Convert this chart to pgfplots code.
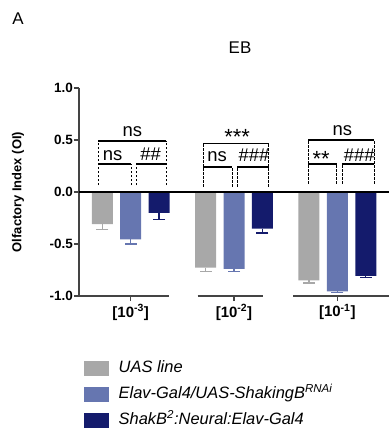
\documentclass[border=0pt]{standalone}
\usepackage{fontspec}
\setmainfont{Liberation Sans}
\usepackage{pgfplots}
\pgfplotsset{compat=1.18}
\definecolor{cgray}{HTML}{A8A8A8}
\definecolor{cblue}{HTML}{6676B0}
\definecolor{cnavy}{HTML}{141B6C}
\definecolor{axgray}{HTML}{444444}
\newcommand{\brk}[7]{%
 \draw[black, line width=0.9bp, dash pattern=on 2.5bp off 1.5bp] (axis cs:#1,#7) -- (axis cs:#1,#5);
 \draw[black, line width=0.9bp, dash pattern=on 2.5bp off 1.5bp] (axis cs:#4,#7) -- (axis cs:#4,#5);
 \draw[black, line width=0.9bp, dash pattern=on 2.5bp off 1.5bp] (axis cs:#2,#7) -- (axis cs:#2,#6);
 \draw[black, line width=0.9bp, dash pattern=on 2.5bp off 1.5bp] (axis cs:#3,#7) -- (axis cs:#3,#6);
 \draw[black, line width=1.2bp] (axis cs:#1,#5) -- (axis cs:#4,#5);
 \draw[black, line width=1.2bp] (axis cs:#1,#6) -- (axis cs:#2,#6);
 \draw[black, line width=1.2bp] (axis cs:#3,#6) -- (axis cs:#4,#6);
}
\begin{document}
\begin{tikzpicture}
\path[use as bounding box] (0,0) rectangle (389bp,430bp);
\node[font=\fontsize{17}{20}\selectfont] at (18bp,411bp) {A};
\node[font=\fontsize{17}{20}\selectfont] at (240bp,382bp) {EB};
\begin{axis}[at={(79bp,134bp)}, anchor=south west, scale only axis,
 width=310bp, height=208bp,
 xmin=0.5, xmax=3.5, ymin=-1, ymax=1, clip=false,
 axis x line*=bottom, axis y line*=left,
 x axis line style={draw=none},
 y axis line style={draw=axgray, line width=1.3bp, -},
 xtick={1,2,3},
 xticklabels={[10\textsuperscript{-3}],[10\textsuperscript{-2}],[10\textsuperscript{-1}]},
 ytick={-1,-0.5,0,0.5,1}, yticklabels={-1.0,-0.5,0.0,0.5,1.0},
 tick align=outside, major tick length=5bp,
 tick style={draw=axgray, line width=1.3bp},
 yticklabel style={font=\bfseries\fontsize{13.5}{16}\selectfont, inner sep=1bp},
 xticklabel style={font=\bfseries\fontsize{15}{17}\selectfont},
 ylabel={Olfactory Index (OI)},
 ylabel style={font=\bfseries\fontsize{13}{15}\selectfont, at={(axis description cs:-0.197,0.5)}, anchor=center},
 legend style={at={(axis description cs:0.005,-0.30)}, anchor=north west, draw=none, fill=none,
   font=\itshape\fontsize{16.5}{19}\selectfont, row sep=10bp,
   /tikz/every odd column/.append style={column sep=10bp},
   nodes={inner sep=0pt, text height=12bp, text depth=4bp}},
 legend cell align=left,
]
\addplot[ybar, bar width=21bp, bar shift=0bp, fill=cgray, draw=none,
  legend image code/.code={\fill[cgray] (0bp,-7.5bp) rectangle (25bp,7.5bp);},
  error bars/.cd, y dir=minus, y explicit,
  error bar style={cgray, line width=1.3bp},
  error mark options={rotate=90, mark size=6bp, cgray, line width=1.3bp}]
  table[x=x, y=y, y error=e] {
x y e
0.725 -0.310 0.050
1.725 -0.727 0.036
2.725 -0.849 0.026
};
\addlegendentry{UAS line}
\addplot[ybar, bar width=21bp, bar shift=0bp, fill=cblue, draw=none,
  legend image code/.code={\fill[cblue] (0bp,-7.5bp) rectangle (25bp,7.5bp);},
  error bars/.cd, y dir=minus, y explicit,
  error bar style={cblue, line width=1.3bp},
  error mark options={rotate=90, mark size=6bp, cblue, line width=1.3bp}]
  table[x=x, y=y, y error=e] {
x y e
1 -0.455 0.045
2 -0.740 0.026
3 -0.955 0.012
};
\addlegendentry{Elav-Gal4/UAS-ShakingB\textsuperscript{RNAi}}
\addplot[ybar, bar width=21bp, bar shift=0bp, fill=cnavy, draw=none,
  legend image code/.code={\fill[cnavy] (0bp,-7.5bp) rectangle (25bp,7.5bp);},
  error bars/.cd, y dir=minus, y explicit,
  error bar style={cnavy, line width=1.3bp},
  error mark options={rotate=90, mark size=6bp, cnavy, line width=1.3bp}]
  table[x=x, y=y, y error=e] {
x y e
1.275 -0.200 0.065
2.275 -0.352 0.042
3.275 -0.807 0.016
};
\addlegendentry{ShakB\textsuperscript{2}:Neural:Elav-Gal4}
% zero line and broken x axis
\draw[black, line width=2bp] (axis cs:0.5,0) -- (axis cs:3.5,0);
\draw[axgray, line width=1.3bp] (axis cs:0.497,-1) -- (axis cs:1.367,-1);
\draw[axgray, line width=1.3bp] (axis cs:1.647,-1) -- (axis cs:2.285,-1);
\draw[axgray, line width=1.3bp] (axis cs:2.575,-1) -- (axis cs:3.5,-1);
% significance brackets
\brk{0.688}{1.007}{1.055}{1.345}{0.49}{0.27}{0.065}
\brk{1.703}{1.984}{2.032}{2.338}{0.47}{0.24}{0.05}
\brk{2.720}{2.993}{3.045}{3.357}{0.50}{0.27}{0.08}
\begin{scope}[every node/.style={font=\fontsize{18.5}{20}\selectfont, inner sep=0pt}]
\node at (axis cs:1.017,0.58) {ns};
\node at (axis cs:0.826,0.35) {ns};
\node at (axis cs:1.193,0.36) {\#\#};
\node[font=\fontsize{22}{24}\selectfont] at (axis cs:2.030,0.53) {***};
\node at (axis cs:1.836,0.34) {ns};
\node at (axis cs:2.193,0.35) {\#\#\#};
\node at (axis cs:3.048,0.59) {ns};
\node[font=\fontsize{22}{24}\selectfont] at (axis cs:2.843,0.32) {**};
\node at (axis cs:3.213,0.35) {\#\#\#};
\end{scope}
\end{axis}
\end{tikzpicture}
\end{document}
